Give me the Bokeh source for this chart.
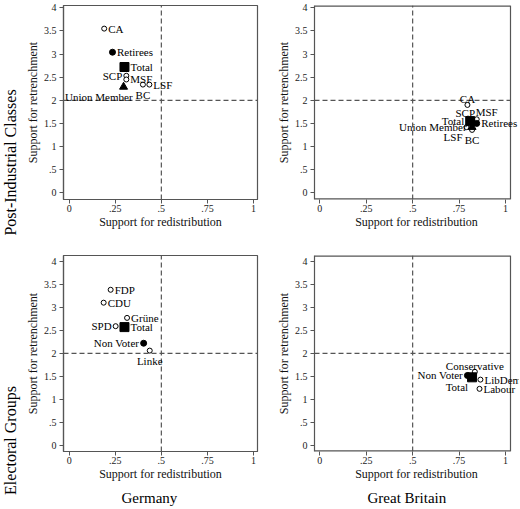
import math
from bokeh.plotting import figure
from bokeh.layouts import column, row
from bokeh.models import ColumnDataSource, FixedTicker, Title, Label
from bokeh.core.properties import value
from bokeh.embed import file_html
from bokeh.resources import INLINE

FONT = "Liberation Serif"

# ---------------- data ----------------
x_ticks = [0, 0.25, 0.5, 0.75, 1]
x_tick_labels = ["0", ".25", ".5", ".75", "1"]
y_ticks = [0, 0.5, 1, 1.5, 2, 2.5, 3, 3.5, 4]
y_tick_labels = ["0", ".5", "1", "1.5", "2", "2.5", "3", "3.5", "4"]

x_title = "Support for redistribution"
y_title = "Support for retrenchment"
row_titles = ["Post-Industrial Classes", "Electoral Groups"]
col_titles = ["Germany", "Great Britain"]

# reference (cut-off) lines
redis_cut = 0.5
retr_cut = 2.0

# Germany - post-industrial classes
de_cls_names = ["CA", "Retirees", "Total", "SCP", "MSF", "Union Member", "BC", "LSF"]
de_cls_redis = [0.19, 0.235, 0.30, 0.31, 0.31, 0.295, 0.40, 0.435]
de_cls_retr = [3.55, 3.04, 2.72, 2.53, 2.45, 2.29, 2.34, 2.34]
de_cls_kind = ["open", "filled", "square", "open", "open", "triangle", "open", "open"]

# Great Britain - post-industrial classes
gb_cls_names = ["CA", "SCP", "MSF", "Total", "Retirees", "Union Member", "LSF", "BC"]
gb_cls_redis = [0.795, 0.82, 0.845, 0.81, 0.845, 0.82, 0.79, 0.82]
gb_cls_retr = [1.90, 1.57, 1.59, 1.55, 1.50, 1.42, 1.42, 1.36]
gb_cls_kind = ["open", "open", "open", "square", "filled", "triangle", "open", "open"]

# Germany - electoral groups
de_el_names = ["FDP", "CDU", "Grüne", "SPD", "Total", "Non Voter", "Linke"]
de_el_redis = [0.225, 0.187, 0.314, 0.252, 0.30, 0.404, 0.437]
de_el_retr = [3.38, 3.10, 2.77, 2.59, 2.57, 2.22, 2.06]
de_el_kind = ["open", "open", "open", "open", "square", "filled", "open"]

# Great Britain - electoral groups
gb_el_names = ["Conservative", "Non Voter", "Total", "LibDem", "Labour"]
gb_el_redis = [0.835, 0.795, 0.82, 0.865, 0.86]
gb_el_retr = [1.60, 1.52, 1.48, 1.43, 1.23]
gb_el_kind = ["open", "filled", "square", "open", "open"]

# label placement (clock positions, as in Stata's mlabposition; 8 = below-left, tight)
de_cls_lpos = [3, 3, 3, 9, 3, 8, 6, 3]
gb_cls_lpos = [12, 11, 1, 9, 3, 9, 7, 6]
de_el_lpos = [3, 3, 3, 9, 3, 9, 6]
gb_el_lpos = [12, 9, 7, 3, 3]

# ---------------- styling ----------------
RADIUS = {"open": 2.5, "filled": 3.0, "triangle": 4.0, "square": 4.5}
POS = {
    3: ("left", "middle"),
    9: ("right", "middle"),
    12: ("center", "bottom"),
    6: ("center", "top"),
    1: ("left", "bottom"),
    11: ("right", "bottom"),
    7: ("right", "top"),
    8: ("right", "top"),
}


def offsets(code, kind):
    r = RADIUS[kind]
    if code == 3:
        return r + 1.5, 0
    if code == 9:
        return -(r + 1.5), 0
    if code == 12:
        return 0, 0
    if code == 6:
        return 0, 4.5
    if code == 1:
        return -1, -1
    if code == 11:
        return 3, -1
    if code == 7:
        return -4, 4
    return 9, 4


FRAME_COLOR = "#555555"
FRAME_W = 1.2

# geometry (page pixels; the page has no margin)
STRIP_W = 22
PAGE_H = 509
GEOM_COL = {"left": (242, 40, 7), "right": (256, 50, 2)}       # width, border left, border right
GEOM_ROW = {"top": (240, 5, 41), "bottom": (269, 15, 58)}      # height, border top, border bottom

# visible axis extent and actual frame extent
X_RANGE = {"left": (-0.0308, 1.0216), "right": (-0.0285, 1.0700)}
X_VIS_END = {"left": 1.0216, "right": 1.0269}
Y_RANGE = {"top": (-0.145, 4.050), "bottom": (-0.130, 4.124)}


def make_panel(col, rw, names, xs, ys, kinds, lpos):
    w, mbl, mbr = GEOM_COL[col]
    h, mbt, mbb = GEOM_ROW[rw]
    xr, yr = X_RANGE[col], Y_RANGE[rw]
    xv = X_VIS_END[col]
    p = figure(width=w, height=h, x_range=xr, y_range=yr,
               output_backend="svg", toolbar_location=None, title_location=None,
               min_border_left=mbl, min_border_right=mbr,
               min_border_top=mbt, min_border_bottom=mbb)
    p.xgrid.visible = False
    p.ygrid.visible = False
    p.background_fill_color = "white"
    p.border_fill_color = "white"

    for ax, ticks, labs, title in ((p.xaxis[0], x_ticks, x_tick_labels, x_title),
                                   (p.yaxis[0], y_ticks, y_tick_labels, y_title)):
        ax.ticker = FixedTicker(ticks=ticks)
        ax.major_label_overrides = {t: l for t, l in zip(ticks, labs)}
        ax.minor_tick_line_color = None
        ax.major_tick_in = 0
        ax.major_tick_out = 4
        ax.major_tick_line_color = FRAME_COLOR
        ax.axis_line_color = FRAME_COLOR
        ax.axis_line_width = FRAME_W
        ax.major_label_text_font = FONT
        ax.major_label_text_font_size = "10px"
        ax.major_label_text_color = "#222222"
        ax.axis_label = title
        ax.axis_label_text_font = FONT
        ax.axis_label_text_font_size = "12px"
        ax.axis_label_text_font_style = "normal"
        ax.axis_label_text_color = "#111111"
    p.xaxis[0].major_label_standoff = 1
    p.xaxis[0].axis_label_standoff = 0
    p.yaxis[0].major_label_standoff = 3
    p.yaxis[0].axis_label_standoff = 1
    p.yaxis[0].major_label_orientation = "horizontal"

    if xv < xr[1]:
        # frame drawn by hand so that labels may run past its right edge
        p.outline_line_color = None
        p.xaxis[0].axis_line_color = None
        p.segment(x0=[xr[0], xr[0]], y0=[yr[0], yr[1]], x1=[xv, xv], y1=[yr[0], yr[1]],
                  line_color=FRAME_COLOR, line_width=2 * FRAME_W)
        p.segment(x0=[xv], y0=[yr[0]], x1=[xv], y1=[yr[1]],
                  line_color=FRAME_COLOR, line_width=FRAME_W)
    else:
        p.outline_line_color = FRAME_COLOR
        p.outline_line_width = FRAME_W

    # reference lines
    p.segment(x0=[redis_cut], y0=[yr[0]], x1=[redis_cut], y1=[yr[1]],
              line_color=FRAME_COLOR, line_width=1.2, line_dash="5 3")
    p.segment(x0=[xr[0]], y0=[retr_cut], x1=[xv], y1=[retr_cut],
              line_color=FRAME_COLOR, line_width=1.2, line_dash="5 3")

    # markers
    def sub(kind):
        idx = [i for i, k in enumerate(kinds) if k == kind]
        return ColumnDataSource(dict(x=[xs[i] for i in idx], y=[ys[i] for i in idx]))

    p.scatter("x", "y", source=sub("open"), marker="circle", size=5,
              fill_color="white", line_color="black", line_width=1)
    p.scatter("x", "y", source=sub("filled"), marker="circle", size=6,
              fill_color="black", line_color="black")
    p.scatter("x", "y", source=sub("triangle"), marker="triangle", size=8,
              fill_color="black", line_color="black")
    p.scatter("x", "y", source=sub("square"), marker="square", size=9,
              fill_color="black", line_color="black")

    # labels
    for code, (align, base) in POS.items():
        idx = [i for i, c in enumerate(lpos) if c == code]
        if not idx:
            continue
        offs = [offsets(code, kinds[i]) for i in idx]
        src = ColumnDataSource(dict(
            x=[xs[i] for i in idx], y=[ys[i] for i in idx],
            t=[names[i] for i in idx],
            xo=[o[0] for o in offs], yo=[o[1] for o in offs]))
        p.text("x", "y", text="t", source=src, x_offset="xo", y_offset="yo",
               text_align=align, text_baseline=base,
               text_font=value(FONT), text_font_size="11px", text_color="black")
    return p


p1 = make_panel("left", "top", de_cls_names, de_cls_redis, de_cls_retr, de_cls_kind, de_cls_lpos)
p2 = make_panel("right", "top", gb_cls_names, gb_cls_redis, gb_cls_retr, gb_cls_kind, gb_cls_lpos)
p3 = make_panel("left", "bottom", de_el_names, de_el_redis, de_el_retr, de_el_kind, de_el_lpos)
p4 = make_panel("right", "bottom", gb_el_names, gb_el_redis, gb_el_retr, gb_el_kind, gb_el_lpos)

# column titles (below the bottom row), left-aligned with a pixel offset from the frame edge
for p, t, off in ((p3, col_titles[0], 58), (p4, col_titles[1], 53)):
    p.add_layout(Title(text=t, align="left", offset=off, standoff=8,
                       text_font=FONT, text_font_size="15px", text_font_style="normal",
                       text_color="black"), "below")

# row titles live in a narrow strip on the left whose frame covers the whole strip
strip = figure(width=STRIP_W, height=PAGE_H, x_range=(0, STRIP_W), y_range=(PAGE_H, 0),
               output_backend="svg", toolbar_location=None, title_location=None,
               min_border_left=0, min_border_right=0, min_border_top=0, min_border_bottom=0)
strip.axis.visible = False
strip.xgrid.visible = False
strip.ygrid.visible = False
strip.outline_line_color = None
strip.background_fill_color = "white"
strip.border_fill_color = "white"
for t, cy in ((row_titles[0], 162), (row_titles[1], 440)):
    strip.add_layout(Label(x=10, y=cy, text=t, angle=math.pi / 2, text_align="center",
                           text_baseline="middle", text_font=FONT, text_font_size="16px",
                           text_color="black"))

layout = row(strip, column(row(p1, p2), row(p3, p4)))

open("out.html", "w").write(file_html(layout, INLINE))
